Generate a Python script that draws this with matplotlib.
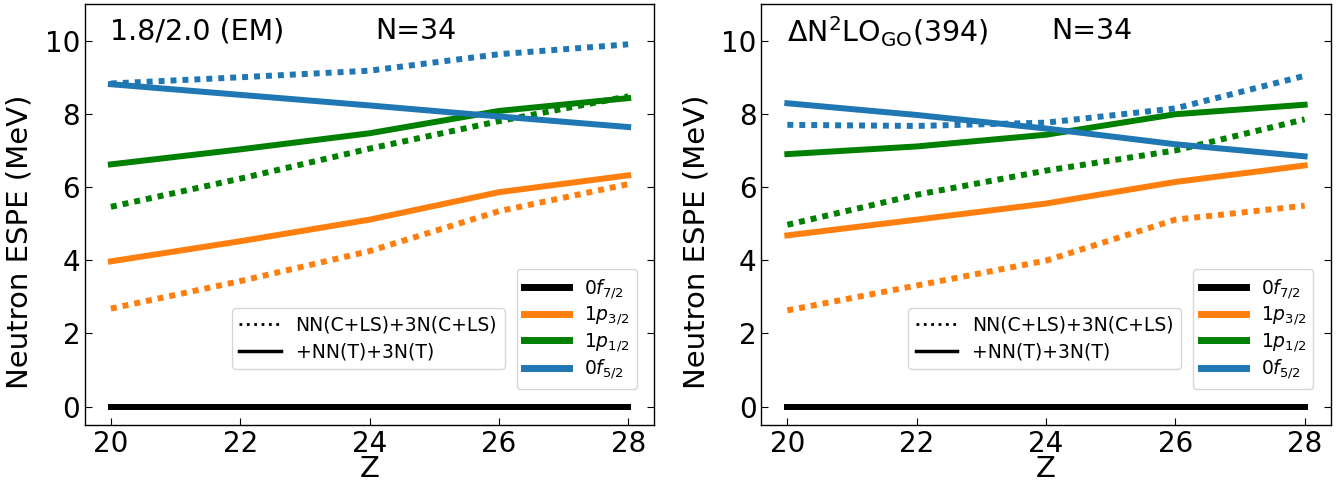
import matplotlib
matplotlib.use("Agg")
import matplotlib.pyplot as plt
from matplotlib.lines import Line2D

Z = [20, 22, 24, 26, 28]
ORBITALS = [r"0$f_{7/2}$", r"1$p_{3/2}$", r"1$p_{1/2}$", r"0$f_{5/2}$"]
COLORS = ["black", "tab:orange", "green", "tab:blue"]

# panel 1: 1.8/2.0 (EM)
em_full = {
    "f72": [0, 0, 0, 0, 0],
    "p32": [3.97, 4.52, 5.11, 5.86, 6.32],
    "p12": [6.62, 7.03, 7.47, 8.08, 8.43],
    "f52": [8.81, 8.52, 8.23, 7.93, 7.64],
}
em_cls = {
    "p32": [2.68, 3.43, 4.25, 5.34, 6.08],
    "p12": [5.46, 6.23, 7.05, 7.80, 8.48],
    "f52": [8.83, 9.00, 9.18, 9.63, 9.90],
}
# panel 2: DeltaN2LO_GO(394)
go_full = {
    "f72": [0, 0, 0, 0, 0],
    "p32": [4.68, 5.11, 5.55, 6.14, 6.59],
    "p12": [6.90, 7.11, 7.43, 7.99, 8.25],
    "f52": [8.29, 7.97, 7.60, 7.17, 6.84],
}
go_cls = {
    "p32": [2.63, 3.31, 3.99, 5.11, 5.49],
    "p12": [4.97, 5.79, 6.45, 7.00, 7.85],
    "f52": [7.70, 7.67, 7.76, 8.15, 9.04],
}
KEYS = ["f72", "p32", "p12", "f52"]
PANELS = [("1.8/2.0 (EM)", em_full, em_cls),
          (r"$\Delta$N$^2$LO$_{\rm GO}$(394)", go_full, go_cls)]

fig = plt.figure(figsize=(13.43, 4.9), dpi=100)
lefts = [0.0633, 0.567]
for left, (name, full, cls) in zip(lefts, PANELS):
    ax = fig.add_axes([left, 0.1327, 0.4237, 0.859])
    for key, col in zip(KEYS, COLORS):
        if key in cls:
            ax.plot(Z, cls[key], color=col, lw=4.3, linestyle=(0, (1, 1)))
        ax.plot(Z, full[key], color=col, lw=4.3)
    ax.set_ylim(-0.5, 11)
    ax.set_xticks(Z)
    ax.set_yticks([0, 2, 4, 6, 8, 10])
    ax.tick_params(direction="in", right=True, labelsize=20, length=5)
    for s in ax.spines.values():
        s.set_linewidth(1.0)
    ax.set_xlabel("Z", fontsize=21, labelpad=-2)
    ax.set_ylabel("Neutron ESPE (MeV)", fontsize=21)
    ax.yaxis.set_label_coords(-0.09, 0.435)
    ax.text(0.044, 0.935, name, transform=ax.transAxes, fontsize=20.5, va="center")
    ax.text(0.51, 0.935, "N=34", transform=ax.transAxes, fontsize=20.5, va="center")

    orb_h = [Line2D([], [], color=c, lw=5) for c in COLORS]
    leg1 = ax.legend(orb_h, ORBITALS, loc="lower right", bbox_to_anchor=(0.97, 0.0855),
                     borderaxespad=0, fontsize=13.5, handlelength=2.4, labelspacing=0.2)
    ax.add_artist(leg1)
    sty_h = [Line2D([], [], color="black", lw=2, ls=":"),
             Line2D([], [], color="black", lw=2.5)]
    ax.legend(sty_h, ["NN(C+LS)+3N(C+LS)", "+NN(T)+3N(T)"], loc="lower left",
              bbox_to_anchor=(0.258, 0.133), borderaxespad=0, fontsize=13.5,
              handlelength=2.2, labelspacing=0.4)

fig.savefig("out.png", dpi=100)
